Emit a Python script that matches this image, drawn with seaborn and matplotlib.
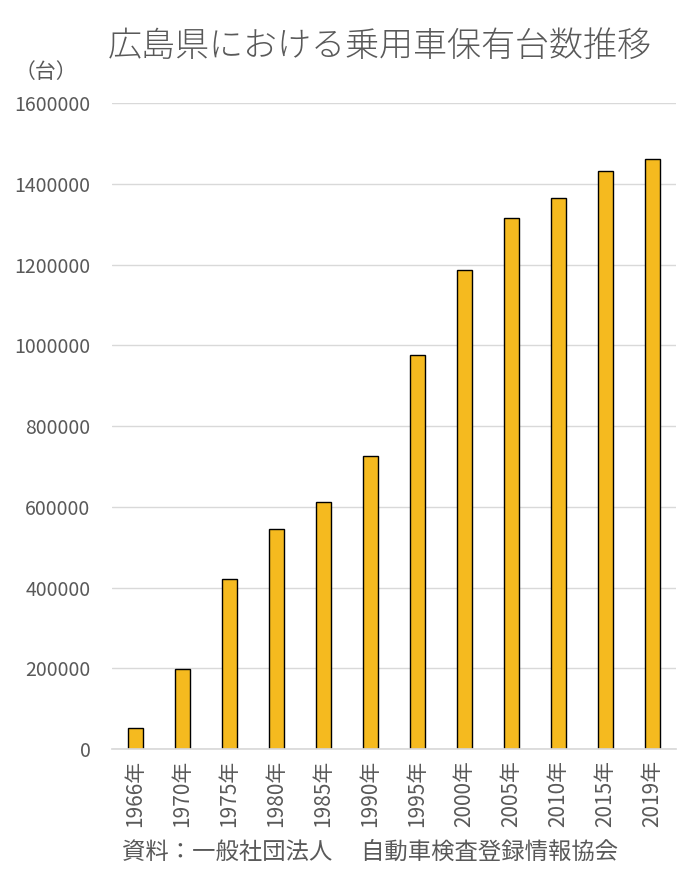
import matplotlib
matplotlib.use("Agg")
import matplotlib.pyplot as plt
import seaborn as sns
import pandas as pd

years = ["1966年", "1970年", "1975年", "1980年", "1985年", "1990年",
         "1995年", "2000年", "2005年", "2010年", "2015年", "2019年"]
cars = [52000, 199000, 421000, 546000, 613000, 727000,
        977000, 1187000, 1315000, 1365000, 1432000, 1463000]
yticks = [0, 200000, 400000, 600000, 800000, 1000000, 1200000, 1400000, 1600000]

sns.set_theme(style="white")
plt.rcParams['font.family'] = ['Noto Sans CJK JP', 'DejaVu Sans']

df = pd.DataFrame({"year": years, "cars": cars})
fig = plt.figure(figsize=(7, 8.75), dpi=100)
ax = fig.add_axes([0.16, 0.144, 0.806, 0.738])
sns.barplot(data=df, x="year", y="cars", ax=ax, color="#F5BA1F",
            saturation=1, width=0.32, edgecolor="black", linewidth=1)
ax.set_ylim(0, 1600000)
ax.set_yticks(yticks)
ax.set_yticklabels([str(v) for v in yticks])
ax.yaxis.grid(True, color="#D9D9D9", linewidth=1)
ax.set_axisbelow(True)
for s in ["top", "right", "left"]:
    ax.spines[s].set_visible(False)
ax.spines["bottom"].set_color("#D9D9D9")
ax.set_xlabel("")
ax.set_ylabel("")
ax.tick_params(axis="y", length=0, labelsize=14, labelcolor="#595959", pad=15.5)
ax.tick_params(axis="x", length=0, labelsize=15, labelcolor="#595959", rotation=90, pad=8)
ax.set_xlim(-0.5, 11.5)

fig.text(0.543, 0.948, "広島県における乗用車保有台数推移", ha="center", va="center",
         fontsize=24.5, color="#595959", fontweight="light")
fig.text(0.065, 0.918, "（台）", ha="center", va="center", fontsize=15, color="#595959")
fig.text(0.174, 0.026, "資料：一般社団法人　 自動車検査登録情報協会", ha="left", va="center",
         fontsize=16.8, color="#595959")
fig.savefig("out.png", dpi=100)
